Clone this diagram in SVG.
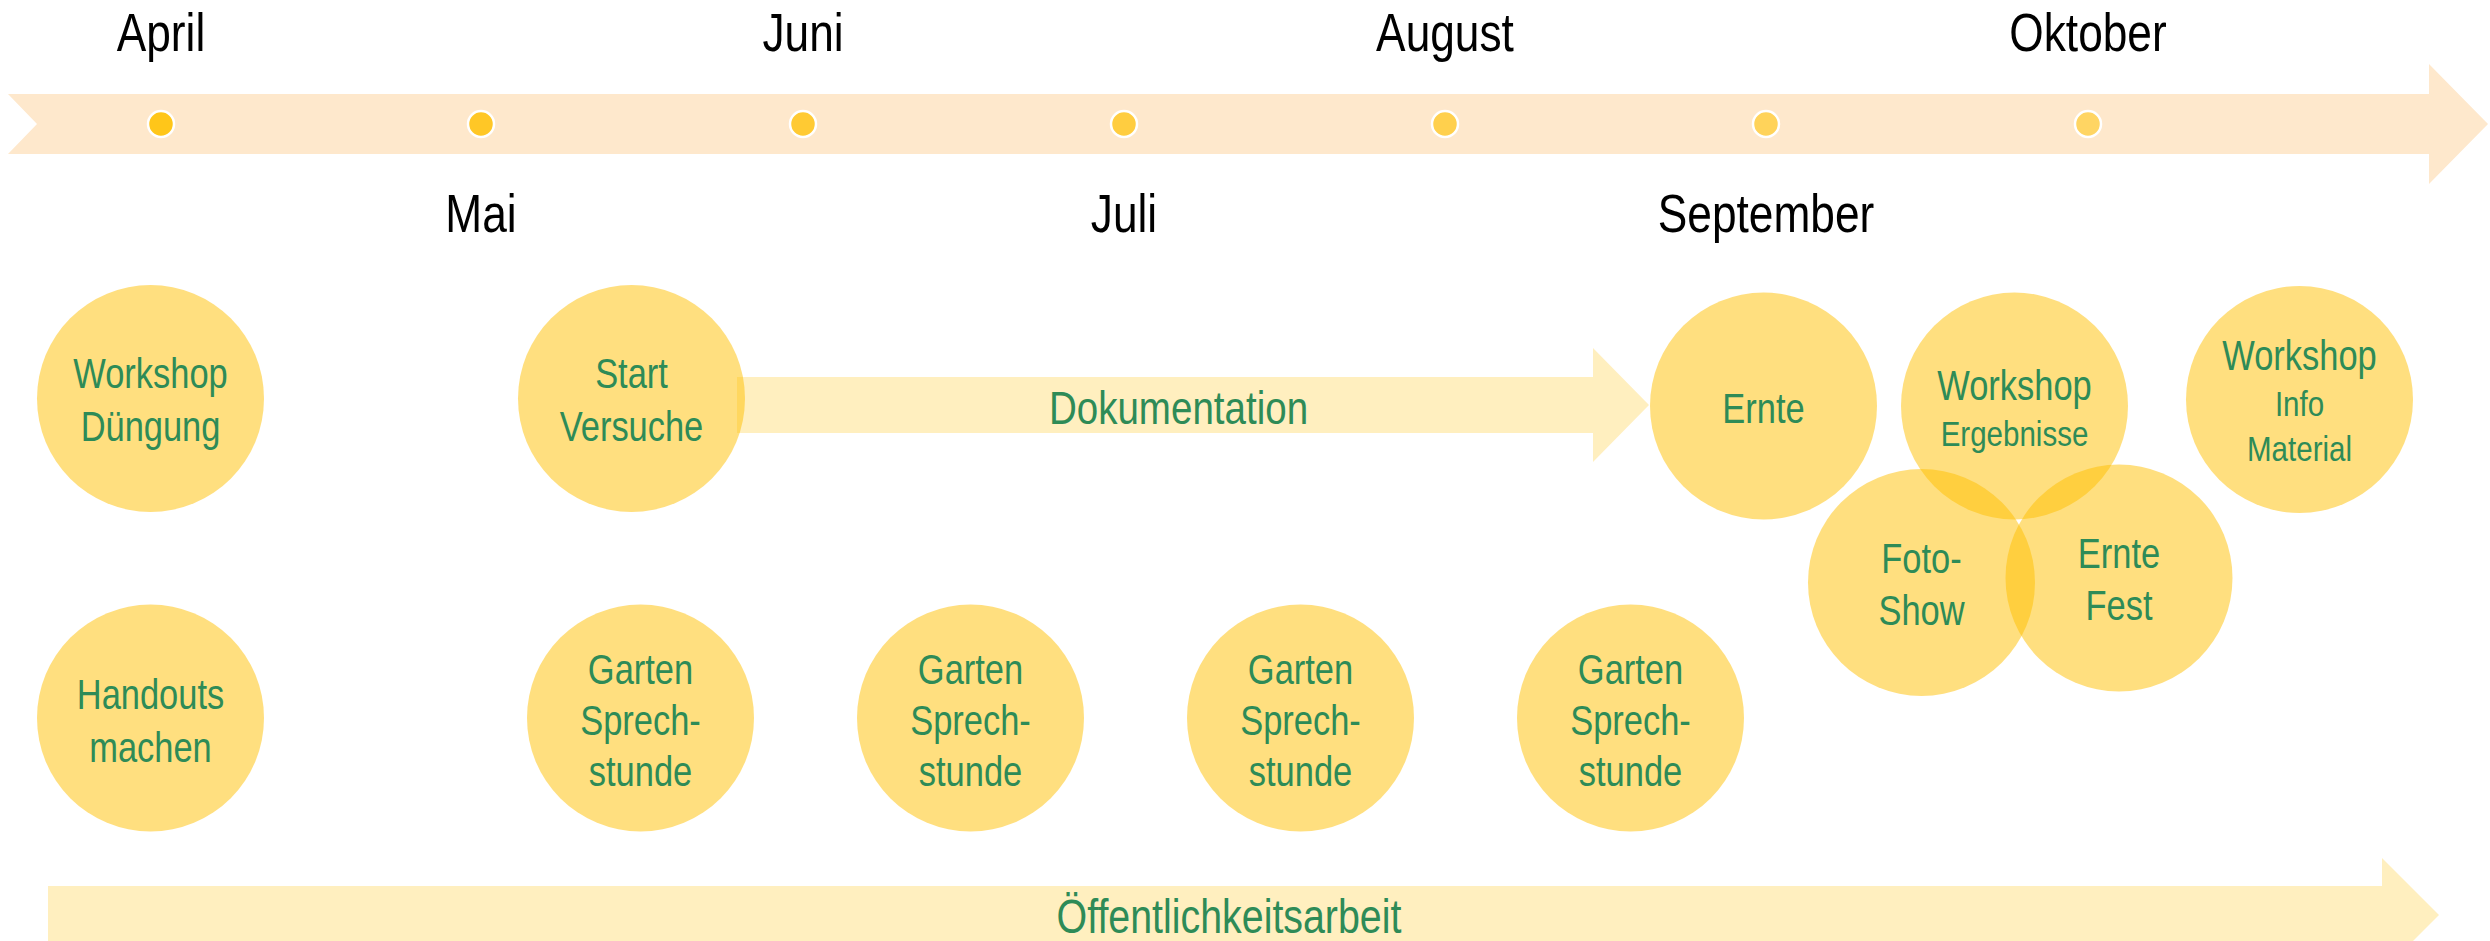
<svg xmlns="http://www.w3.org/2000/svg" width="2490" height="941" viewBox="0 0 2490 941">
<style>
.node circle{fill:#FFC000;fill-opacity:.5}
.lbl{font-family:"Liberation Sans",Arial,sans-serif;font-size:42px;fill:#2E8B57;text-anchor:middle}
.sm{font-size:36px}
.month{font-family:"Liberation Sans",Arial,sans-serif;font-size:54px;fill:#000;text-anchor:middle}
.band{fill:#FFC000;fill-opacity:.25}
.dot{stroke:#fff;stroke-width:2.5}
</style>
<rect width="2490" height="941" fill="#fff"/>
<g id="timeline">
<path d="M8,94 H2429 V64 L2488,124 L2429,184 V154 H8 L37,124 Z" fill="#FEE8CC"/>
<circle class="dot" cx="161" cy="124" r="13" fill="#FFC619"/>
<circle class="dot" cx="481" cy="124" r="13" fill="#FFC726"/>
<circle class="dot" cx="803" cy="124" r="13" fill="#FFCA33"/>
<circle class="dot" cx="1124" cy="124" r="13" fill="#FFCD40"/>
<circle class="dot" cx="1445" cy="124" r="13" fill="#FFD04D"/>
<circle class="dot" cx="1766" cy="124" r="13" fill="#FFD35A"/>
<circle class="dot" cx="2088" cy="124" r="13" fill="#FFD563"/>
<text class="month" transform="translate(161 51) scale(0.82 1)">April</text>
<text class="month" transform="translate(803 51) scale(0.82 1)">Juni</text>
<text class="month" transform="translate(1445 51) scale(0.82 1)">August</text>
<text class="month" transform="translate(2088 51) scale(0.82 1)">Oktober</text>
<text class="month" transform="translate(481 232) scale(0.82 1)">Mai</text>
<text class="month" transform="translate(1124 232) scale(0.82 1)">Juli</text>
<text class="month" transform="translate(1766 232) scale(0.82 1)">September</text>
</g>
<g id="connectors">
<g id="dokumentation">
<path class="band" d="M737,377 H1593 V348 L1649,405 L1593,462 V433 H737 Z"/>
<text class="lbl" style="font-size:47px" transform="translate(1178.5 424) scale(0.82 1)">Dokumentation</text>
</g>
<g id="oeffentlichkeitsarbeit">
<path class="band" d="M48,886 H2382 V858 L2439,915 L2382,972 V944 H48 Z"/>
<text class="lbl" style="font-size:48px" transform="translate(1229 933) scale(0.82 1)">Öffentlichkeitsarbeit</text>
</g>
</g>
<g id="workshop-duengung" class="node">
<circle cx="150.5" cy="398.5" r="113.5"/>
<text class="lbl" transform="translate(150.5 0) scale(0.82 1)"><tspan x="0" y="388">Workshop</tspan><tspan x="0" y="441">Düngung</tspan></text>
</g>
<g id="start-versuche" class="node">
<circle cx="631.5" cy="398.5" r="113.5"/>
<text class="lbl" transform="translate(631.5 0) scale(0.82 1)"><tspan x="0" y="388">Start</tspan><tspan x="0" y="441">Versuche</tspan></text>
</g>
<g id="handouts" class="node">
<circle cx="150.5" cy="718" r="113.5"/>
<text class="lbl" transform="translate(150.5 0) scale(0.82 1)"><tspan x="0" y="709">Handouts</tspan><tspan x="0" y="762">machen</tspan></text>
</g>
<g id="garten1" class="node">
<circle cx="640.5" cy="718" r="113.5"/>
<text class="lbl" transform="translate(640.5 0) scale(0.82 1)"><tspan x="0" y="684">Garten</tspan><tspan x="0" y="735">Sprech-</tspan><tspan x="0" y="786">stunde</tspan></text>
</g>
<g id="garten2" class="node">
<circle cx="970.5" cy="718" r="113.5"/>
<text class="lbl" transform="translate(970.5 0) scale(0.82 1)"><tspan x="0" y="684">Garten</tspan><tspan x="0" y="735">Sprech-</tspan><tspan x="0" y="786">stunde</tspan></text>
</g>
<g id="garten3" class="node">
<circle cx="1300.5" cy="718" r="113.5"/>
<text class="lbl" transform="translate(1300.5 0) scale(0.82 1)"><tspan x="0" y="684">Garten</tspan><tspan x="0" y="735">Sprech-</tspan><tspan x="0" y="786">stunde</tspan></text>
</g>
<g id="garten4" class="node">
<circle cx="1630.5" cy="718" r="113.5"/>
<text class="lbl" transform="translate(1630.5 0) scale(0.82 1)"><tspan x="0" y="684">Garten</tspan><tspan x="0" y="735">Sprech-</tspan><tspan x="0" y="786">stunde</tspan></text>
</g>
<g id="ernte" class="node">
<circle cx="1763.5" cy="406" r="113.5"/>
<text class="lbl" transform="translate(1763.5 423) scale(0.82 1)">Ernte</text>
</g>
<g id="workshop-ergebnisse" class="node">
<circle cx="2014.5" cy="406" r="113.5"/>
<text class="lbl" transform="translate(2014.5 0) scale(0.82 1)"><tspan x="0" y="400">Workshop</tspan><tspan class="sm" x="0" y="446">Ergebnisse</tspan></text>
</g>
<g id="workshop-info" class="node">
<circle cx="2299.5" cy="399.5" r="113.5"/>
<text class="lbl" transform="translate(2299.5 0) scale(0.82 1)"><tspan x="0" y="370">Workshop</tspan><tspan class="sm" x="0" y="416">Info</tspan><tspan class="sm" x="0" y="461">Material</tspan></text>
</g>
<g id="foto-show" class="node">
<circle cx="1921.5" cy="582.5" r="113.5"/>
<text class="lbl" transform="translate(1921.5 0) scale(0.82 1)"><tspan x="0" y="573">Foto-</tspan><tspan x="0" y="625">Show</tspan></text>
</g>
<g id="ernte-fest" class="node">
<circle cx="2119" cy="578" r="113.5"/>
<text class="lbl" transform="translate(2119 0) scale(0.82 1)"><tspan x="0" y="568">Ernte</tspan><tspan x="0" y="620">Fest</tspan></text>
</g>
</svg>
